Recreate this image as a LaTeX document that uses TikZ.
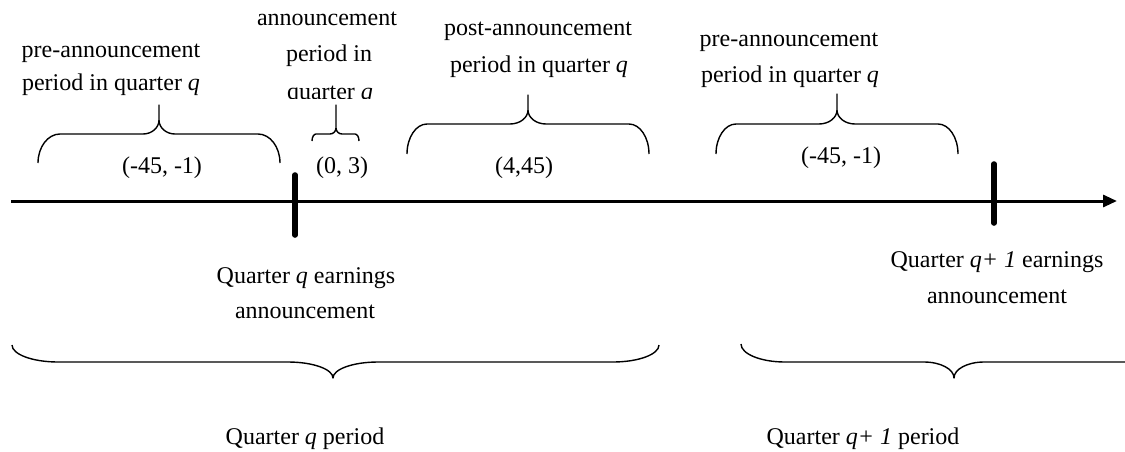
\documentclass[tikz,border=0pt]{standalone}
\usepackage{fontspec}
\setmainfont{Liberation Serif}
\usetikzlibrary{arrows.meta}
% brace: x1, x2, xtip, yend, yflat, ytip, end rx, tip rx, y where tip curve meets stem
\newcommand{\curlybr}[9]{%
 \draw[brc] (#1,#4) .. controls (#1,{#5+0.448*(#4-#5)}) and ({#1+0.448*#7},#5) .. ({#1+#7},#5)
 -- ({#3-#8},#5) .. controls ({#3-0.448*#8},#5) and (#3,{#5+0.448*(#9-#5)}) .. (#3,#9) -- (#3,#6)
 -- (#3,#9) .. controls (#3,{#5+0.448*(#9-#5)}) and ({#3+0.448*#8},#5) .. ({#3+#8},#5)
 -- ({#2-#7},#5) .. controls ({#2-0.448*#7},#5) and (#2,{#5+0.448*(#4-#5)}) .. (#2,#4);}
\begin{document}
\begin{tikzpicture}[x=0.5pt,y=-0.5pt,
  txt/.style={anchor=base, inner sep=0pt, font=\fontsize{12}{14}\selectfont},
  brc/.style={line width=0.7pt, line join=round},
  axisline/.style={line width=1.5pt, -{Triangle[length=7pt,width=6pt]}},
  tickmark/.style={line width=2.8pt, line cap=round}]
\clip (0,0) rectangle (1125,451);
% axis
\coordinate (ax0) at (11,201);
\coordinate (ax1) at (1117,201);
\draw[axisline] (ax0) -- (ax1);
\coordinate (t1a) at (295,175);
\coordinate (t1b) at (295,235);
\draw[tickmark] (t1a) -- (t1b);
\coordinate (t2a) at (994,164);
\coordinate (t2b) at (994,223);
\draw[tickmark] (t2a) -- (t2b);
% upper braces
\curlybr{38}{280}{159}{163}{134}{105}{22}{16}{120}
\curlybr{312}{359}{336}{141}{134}{105}{4}{6}{128}
\curlybr{407}{649}{528}{154}{124}{95}{20}{18}{110}
\curlybr{716}{958}{837}{154}{124}{94}{20}{18}{110}
% lower braces
\curlybr{12}{659}{333}{345}{362}{378}{46}{45}{378}
\curlybr{741}{1167}{954}{344}{362}{378}{44}{30}{378}
% upper labels
\node[txt] (preA1) at (111,57) {pre-announcement};
\node[txt] (preA2) at (111,90) {period in quarter \textit{q}};
\node[txt] (ann1) at (327,25) {announcement};
\node[txt] (ann2) at (329,61) {period in};
\begin{scope}
\clip (250,60) rectangle (420,98);
\node[txt] (ann3) at (330,99) {quarter \textit{q}};
\end{scope}
\node[txt] (post1) at (538,35) {post-announcement};
\node[txt] (post2) at (539,72) {period in quarter \textit{q}};
\node[txt] (preB1) at (789,46) {pre-announcement};
\node[txt] (preB2) at (790,82) {period in quarter \textit{q}};
% intervals
\node[txt] (iv1) at (162,173) {(-45, -1)};
\node[txt] (iv2) at (342,173) {(0, 3)};
\node[txt] (iv3) at (524,173) {(4,45)};
\node[txt] (iv4) at (841,163) {(-45, -1)};
% lower labels
\node[txt] (qe1) at (306,283) {Quarter \textit{q} earnings};
\node[txt] (qe2) at (305,318) {announcement};
\node[txt] (qn1) at (997,267) {Quarter \textit{q+ 1} earnings};
\node[txt] (qn2) at (997,303) {announcement};
\node[txt] (qp) at (305,444) {Quarter \textit{q} period};
\node[txt] (qnp) at (863,444) {Quarter \textit{q+ 1} period};
\end{tikzpicture}
\end{document}
